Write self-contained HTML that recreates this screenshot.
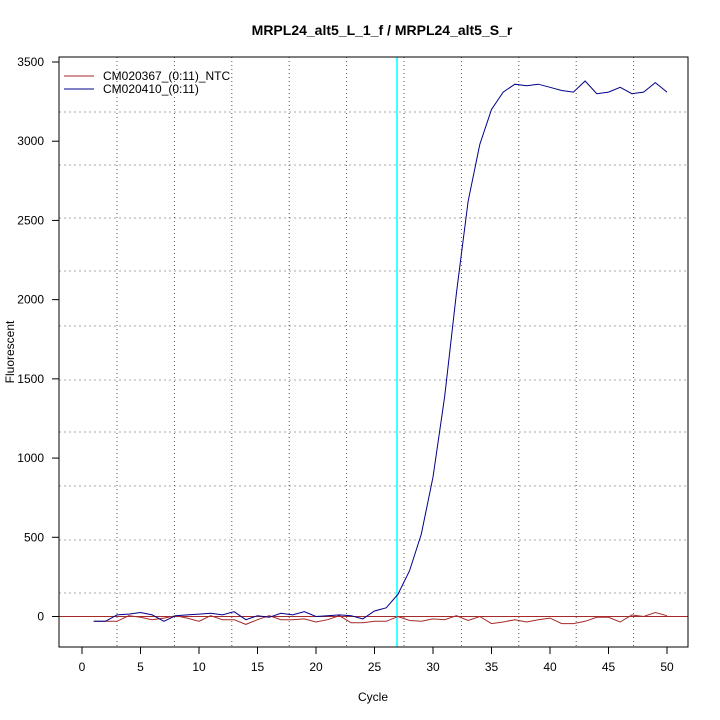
<!DOCTYPE html>
<html><head><style>body{margin:0;background:#fff}svg{display:block}text{font-family:"Liberation Sans",sans-serif;font-size:12px}</style></head>
<body>
<svg id="s" width="720" height="720" xmlns="http://www.w3.org/2000/svg">
<rect width="720" height="720" fill="#fff"/>
<text x="382" y="35" text-anchor="middle" style="font-weight:bold;font-size:14px">MRPL24_alt5_L_1_f / MRPL24_alt5_S_r</text>
<text x="373" y="701" text-anchor="middle">Cycle</text>
<text x="14" y="352" text-anchor="middle" transform="rotate(-90 14 352)">Fluorescent</text>
<g id="g"></g>
<rect x="59" y="57" width="629" height="590" fill="none" stroke="#000"/>
<line x1="64" y1="76" x2="94" y2="76" stroke="#a52a2a"/>
<line x1="64" y1="89" x2="94" y2="89" stroke="#00008b"/>
<text x="103" y="80">CM020367_(0:11)_NTC</text>
<text x="103" y="93">CM020410_(0:11)</text>
</svg>
<script>
var g=document.getElementById('g'),h='';
function X(c){return 82+c*11.7}function Y(v){return 616.5-v*0.15843}
[112,165,218,271,326,380,432,486,540,593].forEach(function(y){h+='<line x1="59" x2="688" y1="'+y+'" y2="'+y+'" stroke="#aaa" stroke-dasharray="2,3"/>'});
for(var x=117;x<688;x+=57.4)h+='<line y1="57" y2="647" x1="'+x+'" x2="'+x+'" stroke="#555" stroke-dasharray="1,3"/>';
for(var c=0;c<=50;c+=5){h+='<line x1="'+X(c)+'" x2="'+X(c)+'" y1="647" y2="654" stroke="#000"/><text x="'+X(c)+'" y="671" text-anchor="middle">'+c+'</text>'}
for(var v=0;v<=3500;v+=500){h+='<line x1="52" x2="59" y1="'+Y(v)+'" y2="'+Y(v)+'" stroke="#000"/><text x="44" y="'+(Y(v)+4)+'" text-anchor="end">'+v+'</text>'}
h+='<line x1="59" x2="688" y1="'+Y(0)+'" y2="'+Y(0)+'" stroke="#a52a2a"/>';
h+='<line x1="397" x2="397" y1="57" y2="647" stroke="#00ffff" stroke-width="1.5"/>';
var b=[-30,-30,10,15,25,10,-30,5,10,15,20,10,30,-20,5,-5,20,10,30,0,5,10,5,-15,35,55,140,290,520,880,1390,2040,2620,2980,3200,3310,3360,3350,3360,3340,3320,3310,3380,3300,3310,3340,3300,3310,3370,3310];
var r=[-30,-30,-30,5,-5,-20,-10,5,-10,-30,5,-20,-20,-50,-20,5,-20,-20,-15,-35,-20,5,-40,-40,-30,-30,0,-25,-30,-15,-20,5,-25,0,-45,-35,-20,-35,-20,-10,-45,-45,-30,-5,-5,-35,10,0,25,5];
function P(a,col){var p=a.map(function(v,i){return X(i+1).toFixed(1)+','+Y(v).toFixed(1)}).join(' ');return '<polyline fill="none" stroke="'+col+'" points="'+p+'"/>'}
h+=P(r,'#a52a2a')+P(b,'#00008b');
g.innerHTML=h;
</script>
</body></html>
